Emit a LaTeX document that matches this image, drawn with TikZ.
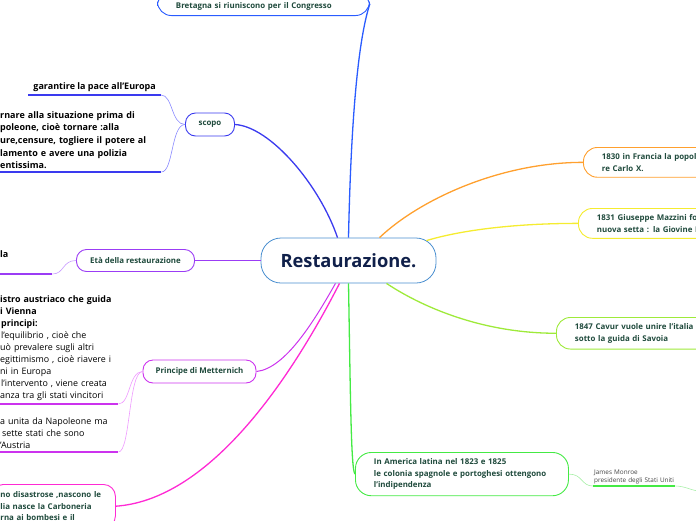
\documentclass[tikz,border=0pt]{standalone}
\usepackage{fontspec}
\setmainfont{Open Sans}
\usetikzlibrary{calc}
\definecolor{topblue}{HTML}{2A5CFF}
\definecolor{scopoblue}{HTML}{3A3AEF}
\definecolor{scopolight}{HTML}{8A8AFF}
\definecolor{etapurple}{HTML}{9B3CF5}
\definecolor{etalight}{HTML}{C89BFF}
\definecolor{metmag}{HTML}{CC33EE}
\definecolor{metlight}{HTML}{EE99FF}
\definecolor{pinkc}{HTML}{FF2AD4}
\definecolor{orangec}{HTML}{FFA02E}
\definecolor{yellowc}{HTML}{F5EC30}
\definecolor{cavgreen}{HTML}{9EEA3A}
\definecolor{amgreen}{HTML}{44EA44}
\definecolor{amlight}{HTML}{AAF0AA}
\definecolor{cblue}{HTML}{4A8FD0}
\definecolor{navy}{HTML}{10204A}
\definecolor{nodetext}{HTML}{1F4A3C}
\definecolor{smalltext}{HTML}{444444}
\tikzset{
  topic/.style={draw, line width=0.9pt, fill=white, text=nodetext,
    font=\bfseries\fontsize{7.9}{11.7}\selectfont, align=left},
  widetopic/.style={topic, inner xsep=18.5pt, inner ysep=6pt, rounded corners=14pt},
  smalltopic/.style={topic, minimum height=23pt, rounded corners=10pt, inner xsep=4pt},
  leafb/.style={font=\bfseries\fontsize{9}{12.6}\selectfont, align=left, inner xsep=2pt, inner ysep=3pt, text=black},
  leafr/.style={font=\fontsize{8.9}{12}\selectfont, align=left, inner xsep=2pt, inner ysep=3pt, text=black},
  conn/.style={line width=1.3pt},
  connthin/.style={line width=0.6pt},
  uline/.style={line width=1.7pt},
}
\begin{document}
\begin{tikzpicture}[x=1pt,y=-1pt]
\useasboundingbox (0,0) rectangle (696,520);
\clip (0,0) rectangle (696,520);

% central node
\node[draw=cblue, line width=0.8pt, fill=white, rounded corners=20pt, minimum width=175pt,
  minimum height=45pt, font=\bfseries\fontsize{18.3}{20}\selectfont, text=navy] (c) at (348.5,260.5) {Restaurazione.};

% top node
\node[widetopic, draw=topblue, anchor=south west, text width=175pt, inner ysep=5pt] (top) at (157,16)
  {\mbox{}\\Bretagna si riuniscono per il Congresso};

% scopo
\node[smalltopic, draw=scopoblue, minimum width=49pt] (scopo) at (210,124.5) {scopo};
\node[leafb, anchor=south east, inner xsep=5pt] (s1) at (161,95) {garantire la pace all'Europa};
\node[leafb, anchor=south west, text width=159pt] (s2) at (-2,172)
  {rnare alla situazione prima di\\poleone, cioè tornare :alla\\ure,censure, togliere il potere al\\lamento e avere una polizia\\entissima.};

% eta
\node[smalltopic, draw=etapurple, minimum width=118pt, minimum height=22pt] (eta) at (135.5,260.5) {Età della restaurazione};
\node[leafb, anchor=south west, text width=50pt, text depth=13pt] (e1) at (-2,274) {la};

% Metternich
\node[smalltopic, draw=metmag, minimum width=113pt] (met) at (199.5,371.5) {Principe di Metternich};
\node[leafr, anchor=south west, text width=116pt] (m1) at (-2,404)
  {\mbox{\textbf{istro austriaco che guida}}\\\textbf{i Vienna}\\\hspace{1pt}\textbf{principi:}\\\hspace{1pt}l'equilibrio , cioè che\\\mbox{uò prevalere sugli altri}\\\mbox{egittimismo , cioè riavere i}\\ni in Europa\\\hspace{1pt}\mbox{l'intervento , viene creata}\\\mbox{anza tra gli stati vincitori}};
\node[leafr, anchor=south west, text width=116pt] (m2) at (-2,452)
  {\mbox{a unita da Napoleone ma}\\\hspace{2pt}sette stati che sono\\'Austria};

% bottom-left pink node
\node[topic, draw=pinkc, anchor=north west, text width=106pt, inner xsep=9pt, inner ysep=7pt, rounded corners=12pt] (p) at (-9,484)
  {\mbox{no disastrose ,nascono le}\\lia nasce la Carboneria\\rna ai bombesi e il};

% right side nodes
\node[widetopic, draw=orangec, anchor=north west, text width=120pt] (n1830) at (583,147)
  {1830 in Francia la popol\\re Carlo X.};
\node[widetopic, draw=yellowc, anchor=north west, text width=125pt] (n1831) at (578,208)
  {1831 Giuseppe Mazzini fo\\nuova setta : la Giovine I};
\node[widetopic, draw=cavgreen, anchor=north west, text width=135pt] (n1847) at (556,317)
  {1847 Cavur vuole unire l'italia\\sotto la guida di Savoia};
\node[widetopic, draw=amgreen, anchor=north west, text width=176pt, inner ysep=6pt, rounded corners=16pt] (am) at (355,452)
  {In America latina nel 1823 e 1825\\\mbox{le colonia spagnole e portoghesi ottengono}\\l'indipendenza};
\node[font=\fontsize{6.4}{7.8}\selectfont, text=smalltext, anchor=south west, align=left,
  inner xsep=1pt, inner ysep=2pt, text width=80pt] (jm) at (593,486) {James Monroe\\presidente degli Stati Uniti};
\coordinate (off) at (700,491);

% main connectors
\draw[conn, topblue] (c.north) .. controls (351,120) and (358,40) .. (top.east);
\draw[conn, scopoblue] (scopo.east) .. controls +(35,2) and +(-18,-53) .. ($(c.north)+(-11,0)$);
\draw[conn, orangec] ($(c.north)+(31,0)$) .. controls +(40,-38) and +(-83,0) .. (n1830.west);
\draw[conn, yellowc] ($(c.north east)+(-10,3)$) .. controls +(40,-12) and +(-55,0) .. (n1831.west);
\draw[conn, cavgreen] ($(c.south)+(38,0)$) .. controls +(33,22) and +(-76,0) .. (n1847.west);
\draw[conn, amgreen] (c.south) .. controls +(2,115) and +(-4,-4) .. (am.west);
\draw[conn, pinkc] ($(c.south)+(-9,0)$) .. controls +(-60,117) and +(85,-6) .. (p.east);
\draw[conn, metmag, line width=1pt] ($(c.south)+(-13,0)$) .. controls +(-21,37) and +(29,-3) .. (met.east);
\draw[conn, etapurple, line width=1.6pt] (c.west) -- (eta.east);

% child connectors
\draw[connthin, scopolight] (scopo.west) .. controls +(-14,0) and +(12,0) .. (s1.south east);
\draw[connthin, scopolight] (scopo.west) .. controls +(-14,0) and +(12,0) .. (s2.south east);
\draw[connthin, etalight] (eta.west) .. controls +(-14,0) and +(12,0) .. (e1.south east);
\draw[connthin, metlight] (met.west) .. controls +(-14,0) and +(12,0) .. (m1.south east);
\draw[connthin, metlight] (met.west) .. controls +(-14,0) and +(12,0) .. (m2.south east);
\draw[connthin, amlight] (am.east) .. controls +(14,0) and +(-12,0) .. (jm.south west);
\draw[connthin, amlight] (jm.south east) .. controls +(10,0) and +(-8,0) .. (off);

% underlines
\draw[uline, scopoblue] (s1.south west) -- (s1.south east);
\draw[uline, scopoblue] (s2.south west) -- (s2.south east);
\draw[uline, etapurple] (e1.south west) -- (e1.south east);
\draw[uline, metmag] (m1.south west) -- (m1.south east);
\draw[uline, metmag] (m2.south west) -- (m2.south east);
\draw[uline, amgreen] (jm.south west) -- (jm.south east);
\end{tikzpicture}
\end{document}
